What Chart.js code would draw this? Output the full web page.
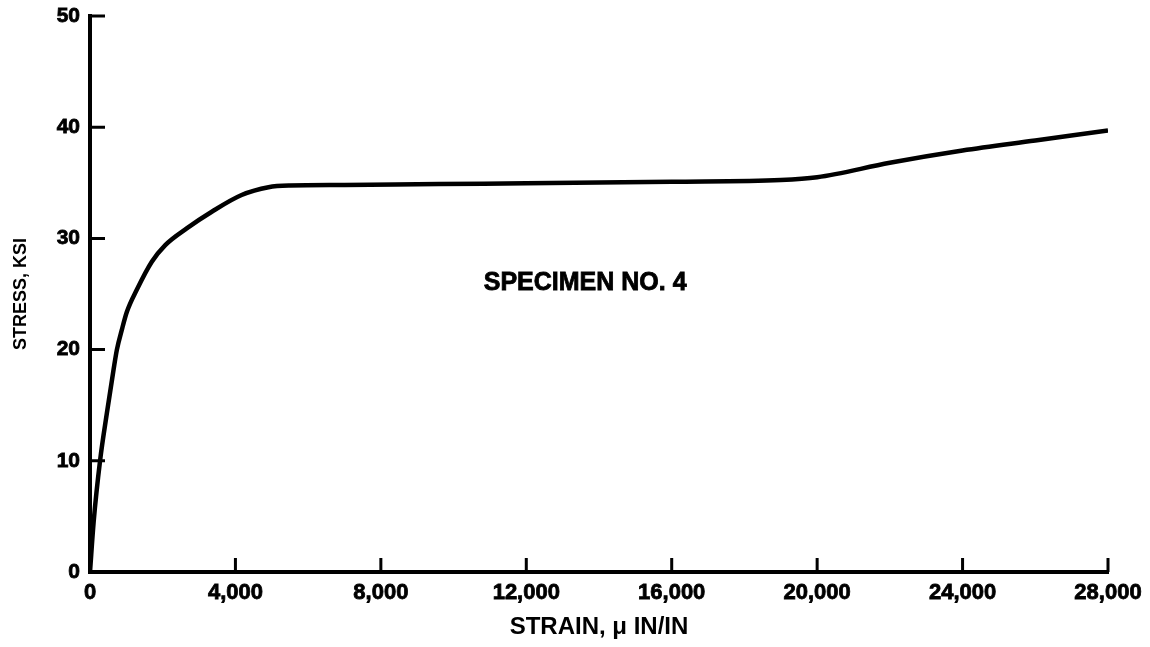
<!DOCTYPE html>
<html>
<head>
<meta charset="utf-8">
<script src="https://cdn.jsdelivr.net/npm/chart.js@4/dist/chart.umd.min.js"></script>
<style>
  html, body { margin: 0; padding: 0; background: #fff; }
  #wrap { width: 1150px; height: 647px; }
</style>
</head>
<body>
<div id="wrap"><canvas id="chart__stress__strain"></canvas></div>
<script>
// strain (micro in/in) and stress (ksi)
const strain = [0, 100, 280, 460, 648, 740, 877, 1015, 1290, 1700, 2070, 2660, 3350, 4170, 4910, 5500, 7000, 9600, 12000, 16000, 19000, 20000, 22000, 24000, 26000, 28000]
const stress = [0, 4.5, 10.1, 14.2, 18.2, 20, 21.8, 23.4, 25.4, 27.9, 29.4, 30.9, 32.4, 33.9, 34.6, 34.75, 34.8, 34.9, 34.95, 35.1, 35.25, 35.5, 36.8, 37.9, 38.8, 39.7]

const xTicks = [0, 4000, 8000, 12000, 16000, 20000, 24000, 28000]
const yTicks = [0, 10, 20, 30, 40, 50]

const labelText = 'SPECIMEN NO. 4'
const labelPos = { x: 10830, y: 26.0 }

const ctx = document.getElementById('chart__stress__strain')
const fontFamily = '"Liberation Sans", Arial, sans-serif'

// ticks point inward, like the original plot
const inwardTicks = {
    id: 'inwardTicks',
    afterDraw(chart) {
        const c = chart.ctx
        const xs = chart.scales.x
        const ys = chart.scales.y
        c.save()
        c.strokeStyle = '#000'
        c.lineWidth = 3
        c.beginPath()
        xTicks.forEach(v => {
            const px = xs.getPixelForValue(v)
            c.moveTo(px, ys.bottom)
            c.lineTo(px, ys.bottom - 14)
        })
        yTicks.forEach(v => {
            const py = ys.getPixelForValue(v)
            c.moveTo(xs.left, py)
            c.lineTo(xs.left + 15, py)
        })
        c.stroke()

        c.fillStyle = '#000'
        c.strokeStyle = '#000'
        c.lineWidth = 0.8
        c.font = 'bold 25px ' + fontFamily
        c.textAlign = 'left'
        c.textBaseline = 'middle'
        const lx = xs.getPixelForValue(labelPos.x)
        const ly = ys.getPixelForValue(labelPos.y)
        c.fillText(labelText, lx, ly)
        c.strokeText(labelText, lx, ly)
        c.restore()
    }
}

new Chart(ctx, {
    type: 'line',
    data: {
        datasets: [{
            label: labelText,
            data: strain.map((s, i) => ({ x: s, y: stress[i] })),
            borderColor: '#000',
            borderWidth: 4.5,
            pointRadius: 0,
            fill: false,
            cubicInterpolationMode: 'monotone'
        }]
    },
    options: {
        responsive: true,
        maintainAspectRatio: false,
        animation: false,
        layout: { padding: { top: 16, right: 42, left: 0, bottom: 0 } },
        plugins: {
            legend: { display: false },
            tooltip: { enabled: false }
        },
        scales: {
            x: {
                type: 'linear',
                min: 0,
                max: 28000,
                afterFit: (scale) => {
                    scale.height = 75
                    scale.paddingLeft = 0
                    scale.paddingRight = 0
                },
                afterBuildTicks: (scale) => { scale.ticks = xTicks.map(v => ({ value: v })) },
                title: {
                    display: true,
                    text: 'STRAIN, \u03bc IN/IN',
                    color: '#000',
                    font: { family: fontFamily, size: 24, weight: 'bold' },
                    padding: { top: 0, bottom: 5 }
                },
                grid: { display: false, drawTicks: false },
                border: { display: true, color: '#000', width: 4 },
                ticks: {
                    color: '#000',
                    padding: 8,
                    maxRotation: 0,
                    autoSkip: false,
                    textStrokeColor: '#000',
                    textStrokeWidth: 0.8,
                    font: { family: fontFamily, size: 22, weight: 'bold' },
                    callback: (v) => v.toLocaleString('en-US')
                }
            },
            y: {
                min: 0,
                max: 50,
                afterFit: (scale) => {
                    scale.width = 90
                    scale.paddingTop = 0
                    scale.paddingBottom = 0
                },
                afterBuildTicks: (scale) => { scale.ticks = yTicks.map(v => ({ value: v })) },
                title: {
                    display: true,
                    text: 'STRESS, KSI',
                    color: '#000',
                    font: { family: fontFamily, size: 18, weight: 'bold' },
                    padding: { top: 10, bottom: 0 }
                },
                grid: { display: false, drawTicks: false },
                border: { display: true, color: '#000', width: 4 },
                ticks: {
                    color: '#000',
                    padding: 10,
                    textStrokeColor: '#000',
                    textStrokeWidth: 0.8,
                    font: { family: fontFamily, size: 21, weight: 'bold' }
                }
            }
        }
    },
    plugins: [inwardTicks]
})
</script>
</body>
</html>
